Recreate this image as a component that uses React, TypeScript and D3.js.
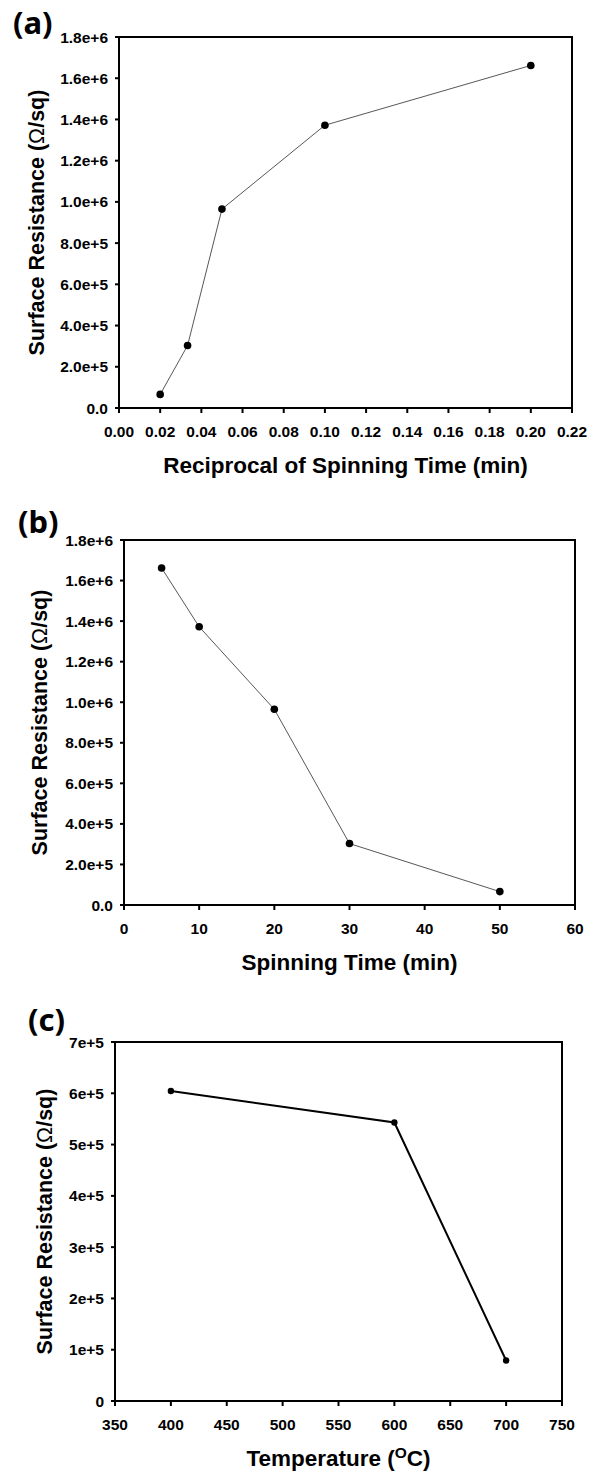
import React from "react";
import * as d3 from "d3";

// Panel (a): reciprocal of spinning time
const recipTime = [0.02, 0.0333, 0.05, 0.1, 0.2];
const recipResist = [66000, 303000, 965000, 1372000, 1662000];
const recipXTicks = [0, 0.02, 0.04, 0.06, 0.08, 0.1, 0.12, 0.14, 0.16, 0.18, 0.2, 0.22];
const resistTicks = [0, 200000, 400000, 600000, 800000, 1000000, 1200000, 1400000, 1600000, 1800000];

// Panel (b): spinning time
const spinTime = [5, 10, 20, 30, 50];
const spinResist = [1662000, 1372000, 965000, 303000, 66000];
const spinXTicks = [0, 10, 20, 30, 40, 50, 60];

// Panel (c): temperature
const temperature = [400, 600, 700];
const tempResist = [604500, 543000, 79000];
const tempXTicks = [350, 400, 450, 500, 550, 600, 650, 700, 750];
const tempYTicks = [0, 100000, 200000, 300000, 400000, 500000, 600000, 700000];

const TICK_FONT = "'Liberation Sans', Arial, sans-serif";

type PanelProps = {
  label: string;
  box: { left: number; right: number; top: number; bottom: number };
  xDomain: [number, number];
  yDomain: [number, number];
  xTicks: number[];
  yTicks: number[];
  xFmt: (d: number) => string;
  yFmt: (d: number) => string;
  xs: number[];
  ys: number[];
  xTitle: React.ReactNode;
  yTitleX: number;
  labelPos: [number, number];
  lineWidth: number;
  lineColor: string;
  dotR: number;
};

function Panel(p: PanelProps) {
  const x = d3.scaleLinear().domain(p.xDomain).range([p.box.left, p.box.right]);
  const y = d3.scaleLinear().domain(p.yDomain).range([p.box.bottom, p.box.top]);
  const line = d3
    .line<number>()
    .x((_, i) => x(p.xs[i]))
    .y((d) => y(d));
  const { left, right, top, bottom } = p.box;
  const cy = (top + bottom) / 2;
  const cx = (left + right) / 2;
  return (
    <g>
      <text
        x={p.labelPos[0]}
        y={p.labelPos[1]}
        fontFamily="'Noto Sans', sans-serif"
        fontWeight="bold"
        fontSize={31}
        fill="#000"
      >
        {p.label}
      </text>
      <rect
        x={left}
        y={top}
        width={right - left}
        height={bottom - top}
        fill="none"
        stroke="#000"
        strokeWidth={2}
      />
      {p.yTicks.map((t) => (
        <g key={"y" + t}>
          <line x1={left - 4} x2={left} y1={y(t)} y2={y(t)} stroke="#000" strokeWidth={2} />
          <text
            x={left - 11}
            y={y(t)}
            textAnchor="end"
            dominantBaseline="central"
            fontFamily={TICK_FONT}
            fontWeight="bold"
            fontSize={15.5}
          >
            {p.yFmt(t)}
          </text>
        </g>
      ))}
      {p.xTicks.map((t) => (
        <g key={"x" + t}>
          <line x1={x(t)} x2={x(t)} y1={bottom} y2={bottom + 5} stroke="#000" strokeWidth={2} />
          <text
            x={x(t)}
            y={bottom + 29}
            textAnchor="middle"
            fontFamily={TICK_FONT}
            fontWeight="bold"
            fontSize={15.5}
          >
            {p.xFmt(t)}
          </text>
        </g>
      ))}
      <text
        x={cx}
        y={bottom + 65}
        textAnchor="middle"
        fontFamily={TICK_FONT}
        fontWeight="bold"
        fontSize={22.5}
      >
        {p.xTitle}
      </text>
      <text
        transform={`translate(${p.yTitleX},${cy}) rotate(-90)`}
        textAnchor="middle"
        dominantBaseline="central"
        fontFamily={TICK_FONT}
        fontWeight="bold"
        fontSize={21.5}
      >
        Surface Resistance (<tspan fontWeight="normal">Ω</tspan>/sq)
      </text>
      <path d={line(p.ys) || ""} fill="none" stroke={p.lineColor} strokeWidth={p.lineWidth} />
      {p.ys.map((v, i) => (
        <circle key={"p" + i} cx={x(p.xs[i])} cy={y(v)} r={p.dotR} fill="#000" />
      ))}
    </g>
  );
}

const sci1 = (d: number) => (d === 0 ? "0.0" : d.toExponential(1));
const sci0 = (d: number) => (d === 0 ? "0" : d.toExponential(0));

export default function App() {
  return (
    <svg
      width={595}
      height={1477}
      style={{ position: "absolute", left: 0, top: 0, background: "#fff" }}
    >
      <rect x={0} y={0} width={595} height={1477} fill="#fff" />
      <Panel
        label="(a)"
        box={{ left: 119, right: 572, top: 37, bottom: 408 }}
        xDomain={[0, 0.22]}
        yDomain={[0, 1800000]}
        xTicks={recipXTicks}
        yTicks={resistTicks}
        xFmt={d3.format(".2f")}
        yFmt={sci1}
        xs={recipTime}
        ys={recipResist}
        xTitle="Reciprocal of Spinning Time (min)"
        yTitleX={37}
        labelPos={[13, 34]}
        lineWidth={0.9}
        lineColor="#444"
        dotR={3.8}
      />
      <Panel
        label="(b)"
        box={{ left: 124, right: 575, top: 540, bottom: 905 }}
        xDomain={[0, 60]}
        yDomain={[0, 1800000]}
        xTicks={spinXTicks}
        yTicks={resistTicks}
        xFmt={d3.format("d")}
        yFmt={sci1}
        xs={spinTime}
        ys={spinResist}
        xTitle="Spinning Time (min)"
        yTitleX={40}
        labelPos={[18, 533]}
        lineWidth={0.9}
        lineColor="#444"
        dotR={3.8}
      />
      <Panel
        label="(c)"
        box={{ left: 115, right: 562, top: 1042, bottom: 1401 }}
        xDomain={[350, 750]}
        yDomain={[0, 700000]}
        xTicks={tempXTicks}
        yTicks={tempYTicks}
        xFmt={d3.format("d")}
        yFmt={sci0}
        xs={temperature}
        ys={tempResist}
        xTitle={
          <>
            Temperature (<tspan fontSize={15.5} dy={-8}>O</tspan>
            <tspan dy={8}>C)</tspan>
          </>
        }
        yTitleX={45}
        labelPos={[28, 1031]}
        lineWidth={2}
        lineColor="#000"
        dotR={3.2}
      />
    </svg>
  );
}
